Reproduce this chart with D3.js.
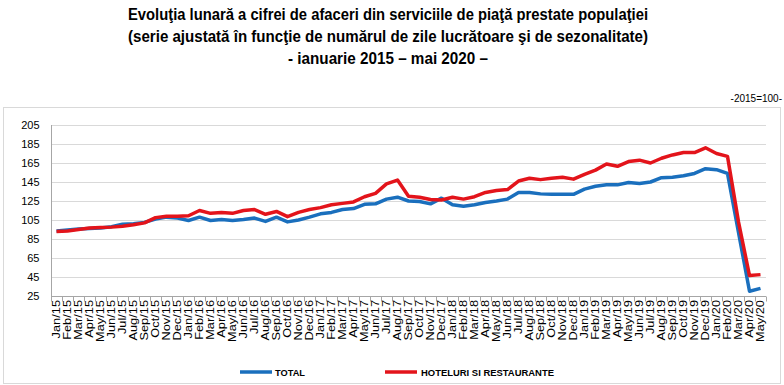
<!DOCTYPE html>
<html>
<head>
<meta charset="utf-8">
<script src="https://cdn.jsdelivr.net/npm/d3@7"></script>
<style>
  html, body { margin: 0; padding: 0; background: #fff; }
  svg { display: block; }
</style>
</head>
<body>
<svg id="chart" width="784" height="385"></svg>
<script>
const titleLines = [
  "Evoluţia lunară a cifrei de afaceri din serviciile de piaţă prestate populaţiei",
  "(serie ajustată în funcţie de numărul de zile lucrătoare şi de sezonalitate)",
  "- ianuarie 2015 – mai 2020 –"
];
const unitLabel = "-2015=100-";
const seriesNames = ["TOTAL", "HOTELURI SI RESTAURANTE"];
const monthNames = ["Jan","Feb","Mar","Apr","May","Jun","Jul","Aug","Sep","Oct","Nov","Dec"];
const years = ["15","16","17","18","19","20"];
const categories = [];
years.forEach(y => monthNames.forEach(m => categories.push(m + "/" + y)));
categories.length = 65; // Jan/15 .. May/20

const yTicks = [25, 45, 65, 85, 105, 125, 145, 165, 185, 205];

const totalValues = [
  93.5, 94.5, 95.5, 96, 96.5, 98, 100.5, 101, 102.5, 106, 108, 107,
  104.5, 108, 104.5, 105.5, 104.5, 105.5, 107, 103.5, 108, 103, 105, 108,
  111.5, 113, 116, 117, 121.5, 122, 127, 129, 125, 124.5, 122, 128,
  121, 119.5, 121, 123.5, 125, 127, 134, 134, 132.5, 132, 132, 132,
  137.5, 140.5, 142, 142, 144.5, 143.5, 145, 149.5, 150, 151.5, 154, 159,
  158, 154, 92, 30, 33
];
const horecaValues = [
  93, 93.5, 95, 96.5, 97, 97.5, 98.5, 100, 102, 107.5, 109, 109,
  109.5, 115, 112, 113, 112, 115, 116, 111, 114, 108.5, 113, 116,
  118, 121, 122.5, 124, 129.5, 133, 143, 147, 130, 129, 126.5, 126,
  129, 127, 129.5, 134, 136, 137, 146, 149, 147.5, 149, 150, 148,
  153, 157.5, 164, 161.5, 166.5, 168, 165, 170, 173.5, 176, 176, 181,
  175, 172, 103, 46.5, 47.5
];

const svg = d3.select("#chart");

// outer frame
svg.append("rect")
  .attr("x", 3.5).attr("y", 107.5)
  .attr("width", 777).attr("height", 276)
  .attr("fill", "none").attr("stroke", "#d9d9d9").attr("stroke-width", 1);

// titles
const titleY = [20, 42, 64];
const titleW = [520, 520, 200];
titleLines.forEach((t, i) => {
  svg.append("text")
    .attr("x", 388).attr("y", titleY[i])
    .attr("text-anchor", "middle")
    .attr("font-family", "'Liberation Sans Narrow', 'Liberation Sans', Arial, sans-serif")
    .attr("font-weight", "bold")
    .attr("font-size", 17)
    .attr("textLength", titleW[i])
    .attr("lengthAdjust", "spacingAndGlyphs")
    .attr("fill", "#000")
    .text(t);
});

svg.append("text")
  .attr("x", 782).attr("y", 102)
  .attr("text-anchor", "end")
  .attr("font-family", "'Liberation Sans Narrow', 'Liberation Sans', Arial, sans-serif")
  .attr("font-size", 10)
  .attr("fill", "#000")
  .text(unitLabel);

const plotL = 51, plotR = 766, plotT = 125, plotB = 296;
const x = d3.scaleBand().domain(categories).range([plotL, plotR]).paddingInner(0).paddingOuter(0);
const y = d3.scaleLinear().domain([25, 205]).range([plotB, plotT]);

// gridlines
svg.append("g")
  .selectAll("line").data(yTicks.filter(v => v > 25)).join("line")
  .attr("x1", plotL).attr("x2", plotR)
  .attr("y1", d => Math.round(y(d)) + 0.5).attr("y2", d => Math.round(y(d)) + 0.5)
  .attr("stroke", "#d9d9d9").attr("stroke-width", 1);

// y axis
const yAxis = d3.axisLeft(y).tickValues(yTicks).tickSize(0).tickPadding(12);
const gy = svg.append("g").attr("transform", `translate(${plotL + 0.5},0)`).call(yAxis);
gy.select(".domain").attr("stroke", "#a6a6a6").attr("d", `M0,${plotT}V${plotB}`);
gy.selectAll("text")
  .attr("font-family", "'Liberation Sans', Arial, sans-serif")
  .attr("font-size", 11)
  .attr("fill", "#000");

// x axis
const xAxis = d3.axisBottom(x).tickSize(0).tickFormat("");
const gx = svg.append("g").attr("transform", `translate(0,${plotB + 0.5})`).call(xAxis);
gx.select(".domain").attr("stroke", "#a6a6a6").attr("d", `M${plotL},0H${plotR}`);
gx.selectAll(".tick").remove();
const bounds = categories.map(c => x(c)).concat([x(categories[categories.length - 1]) + x.bandwidth()]);
gx.selectAll("line.bt").data(bounds).join("line")
  .attr("class", "bt")
  .attr("x1", d => Math.round(d) + 0.5).attr("x2", d => Math.round(d) + 0.5)
  .attr("y1", 0).attr("y2", 5)
  .attr("stroke", "#a6a6a6");
// rotated labels
svg.append("g").selectAll("text").data(categories).join("text")
  .attr("transform", d => `translate(${x(d) + x.bandwidth() / 2 + 3.6},${plotB + 4}) rotate(-90) scale(1.28,1)`)
  .attr("text-anchor", "end")
  .attr("font-family", "'Liberation Sans', Arial, sans-serif")
  .attr("font-size", 10)
  .attr("fill", "#000")
  .text(d => d);

// lines
const line = d3.line()
  .x((d, i) => x(categories[i]) + x.bandwidth() / 2)
  .y(d => y(d));
const colors = ["#1a6fbd", "#e3141b"];
[totalValues, horecaValues].forEach((vals, k) => {
  svg.append("path")
    .datum(vals)
    .attr("d", line)
    .attr("fill", "none")
    .attr("stroke", colors[k])
    .attr("stroke-width", 3.5)
    .attr("stroke-linejoin", "round")
    .attr("stroke-linecap", "butt");
});

// legend
const legY = 372;
const leg = [
  { x1: 240, x2: 272, tx: 275, tw: 30 },
  { x1: 385, x2: 417, tx: 421, tw: 133 }
];
leg.forEach((l, k) => {
  svg.append("line")
    .attr("x1", l.x1).attr("x2", l.x2).attr("y1", legY).attr("y2", legY)
    .attr("stroke", colors[k]).attr("stroke-width", 3.5);
  svg.append("text")
    .attr("x", l.tx).attr("y", legY + 3.5)
    .attr("font-family", "'Liberation Sans', Arial, sans-serif")
    .attr("font-weight", "bold")
    .attr("font-size", 9.5)
    .attr("textLength", l.tw)
    .attr("lengthAdjust", "spacingAndGlyphs")
    .attr("fill", "#000")
    .text(seriesNames[k]);
});
</script>
</body>
</html>
